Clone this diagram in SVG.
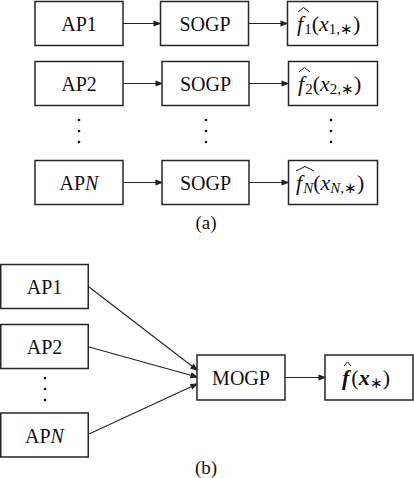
<svg xmlns="http://www.w3.org/2000/svg" width="414" height="478" viewBox="0 0 414 478">
<defs>
<path id="ah" d="M-6,-2.2 L0,0 L-6,2.2 Z" fill="#222"/>
</defs>
<rect width="414" height="478" fill="#fff"/>

<g id="connectors" stroke="#222" stroke-width="1.1" fill="none">
<line x1="123" y1="23.5" x2="160" y2="23.5"/>
<line x1="248" y1="23.5" x2="287" y2="23.5"/>
<line x1="123" y1="83.5" x2="162" y2="83.5"/>
<line x1="249" y1="83.5" x2="288" y2="83.5"/>
<line x1="123" y1="182.5" x2="162" y2="182.5"/>
<line x1="249" y1="182.5" x2="288" y2="182.5"/>
<line x1="89" y1="287" x2="197" y2="370"/>
<line x1="89" y1="347" x2="197" y2="377"/>
<line x1="89" y1="434" x2="197" y2="384"/>
<line x1="285" y1="377.5" x2="325" y2="377.5"/>
<use href="#ah" transform="translate(160,23.5)"/>
<use href="#ah" transform="translate(287,23.5)"/>
<use href="#ah" transform="translate(162,83.5)"/>
<use href="#ah" transform="translate(288,83.5)"/>
<use href="#ah" transform="translate(162,182.5)"/>
<use href="#ah" transform="translate(288,182.5)"/>
<use href="#ah" transform="translate(197,370) rotate(37.5)"/>
<use href="#ah" transform="translate(197,377) rotate(15.5)"/>
<use href="#ah" transform="translate(197,384) rotate(-24.8)"/>
<use href="#ah" transform="translate(325,377.5)"/>
</g>

<g fill="#fff" stroke="#262626" stroke-width="1.5">
<rect id="ap1a" x="35" y="1.5" width="88" height="44"/>
<rect id="sogp1" x="160.5" y="1.5" width="88" height="44"/>
<rect id="f1" x="287.5" y="1.5" width="90" height="44"/>
<rect id="ap2a" x="35" y="61.5" width="88" height="44"/>
<rect id="sogp2" x="162" y="61.5" width="87" height="44"/>
<rect id="f2" x="288.5" y="61.5" width="89" height="44"/>
<rect id="apna" x="35" y="160.5" width="88" height="44"/>
<rect id="sogpn" x="162" y="160.5" width="87" height="44"/>
<rect id="fn" x="288.5" y="160.5" width="89" height="44"/>
<rect id="ap1b" x="0.75" y="264.5" width="87.5" height="44"/>
<rect id="ap2b" x="0.75" y="324.5" width="87.5" height="44"/>
<rect id="apnb" x="0.75" y="413" width="87.5" height="44"/>
<rect id="mogp" x="197" y="355" width="88" height="45"/>
<rect id="fb" x="325" y="355" width="88" height="45"/>
</g>

<g id="hats" fill="none" stroke="#111" stroke-width="1">
<path d="M298,12 L303.5,7.5 L309,12"/>
<path d="M299,72 L304.5,67.5 L310,72"/>
<path d="M296,171 L305,166.5 L314,171"/>
<path d="M344,366 L347.5,362 L351,366"/>
</g>

<g id="dots" fill="#111">
<circle cx="79" cy="120" r="1.3"/><circle cx="79" cy="131" r="1.3"/><circle cx="79" cy="142" r="1.3"/>
<circle cx="206" cy="120" r="1.3"/><circle cx="206" cy="131" r="1.3"/><circle cx="206" cy="142" r="1.3"/>
<circle cx="331" cy="120" r="1.3"/><circle cx="331" cy="131" r="1.3"/><circle cx="331" cy="142" r="1.3"/>
<circle cx="45" cy="378" r="1.3"/><circle cx="45" cy="389" r="1.3"/><circle cx="45" cy="400" r="1.3"/>
</g>

<g id="labels" fill="#111">
<text font-family="Liberation Serif" font-size="20" text-anchor="middle" x="79" y="31">AP1</text>
<text font-family="Liberation Serif" font-size="20" text-anchor="middle" x="205" y="31">SOGP</text>
<text font-family="Liberation Serif" font-size="22" x="297" y="31"><tspan font-style="italic">f</tspan><tspan font-size="15" dy="3" dx="1">1</tspan><tspan dy="-3">(</tspan><tspan font-style="italic">x</tspan><tspan font-size="15" dy="3">1,∗</tspan><tspan dy="-3">)</tspan></text>
<text font-family="Liberation Serif" font-size="20" text-anchor="middle" x="79" y="91">AP2</text>
<text font-family="Liberation Serif" font-size="20" text-anchor="middle" x="205.5" y="91">SOGP</text>
<text font-family="Liberation Serif" font-size="22" x="298" y="91"><tspan font-style="italic">f</tspan><tspan font-size="15" dy="3" dx="1">2</tspan><tspan dy="-3">(</tspan><tspan font-style="italic">x</tspan><tspan font-size="15" dy="3">2,∗</tspan><tspan dy="-3">)</tspan></text>
<text font-family="Liberation Serif" font-size="20" text-anchor="middle" x="79" y="190">AP<tspan font-style="italic">N</tspan></text>
<text font-family="Liberation Serif" font-size="20" text-anchor="middle" x="205.5" y="190">SOGP</text>
<text font-family="Liberation Serif" font-size="22" x="296" y="190"><tspan font-style="italic">f</tspan><tspan font-size="15" font-style="italic" dy="3" dx="1">N</tspan><tspan dy="-3">(</tspan><tspan font-style="italic">x</tspan><tspan font-size="15" font-style="italic" dy="3">N</tspan><tspan font-size="15">,∗</tspan><tspan dy="-3">)</tspan></text>
<text font-family="Liberation Serif" font-size="19" text-anchor="middle" x="206" y="229">(a)</text>
<text font-family="Liberation Serif" font-size="20" text-anchor="middle" x="44.5" y="294">AP1</text>
<text font-family="Liberation Serif" font-size="20" text-anchor="middle" x="44.5" y="354">AP2</text>
<text font-family="Liberation Serif" font-size="20" text-anchor="middle" x="44.5" y="443">AP<tspan font-style="italic">N</tspan></text>
<text font-family="Liberation Serif" font-size="20" text-anchor="middle" x="241" y="385">MOGP</text>
<text font-family="Liberation Serif" font-size="22" x="342" y="385"><tspan font-style="italic" font-weight="bold">f</tspan><tspan dx="2">(</tspan><tspan font-style="italic" font-weight="bold">x</tspan><tspan font-size="15" dy="3">∗</tspan><tspan dy="-3">)</tspan></text>
<text font-family="Liberation Serif" font-size="19" text-anchor="middle" x="206" y="474">(b)</text>
</g>
</svg>
